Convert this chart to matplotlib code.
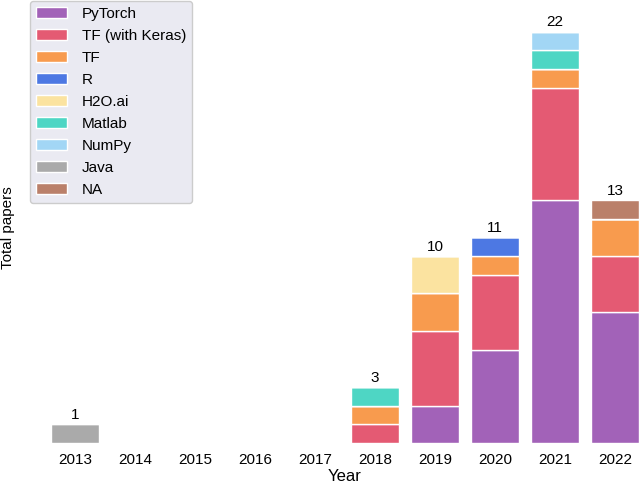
import numpy as np
import matplotlib.pyplot as plt

plt.rcParams['font.family'] = ['Liberation Sans', 'DejaVu Sans']

years = ['2013', '2014', '2015', '2016', '2017', '2018', '2019', '2020', '2021', '2022']
frameworks = ['PyTorch', 'TF (with Keras)', 'TF', 'R', 'H2O.ai', 'Matlab', 'NumPy', 'Java', 'NA']

pytorch = [0, 0, 0, 0, 0, 0, 2, 5, 13, 7]
tf_keras = [0, 0, 0, 0, 0, 1, 4, 4, 6, 3]
tf = [0, 0, 0, 0, 0, 1, 2, 1, 1, 2]
r_lang = [0, 0, 0, 0, 0, 0, 0, 1, 0, 0]
h2o = [0, 0, 0, 0, 0, 0, 2, 0, 0, 0]
matlab = [0, 0, 0, 0, 0, 1, 0, 0, 1, 0]
numpy_ = [0, 0, 0, 0, 0, 0, 0, 0, 1, 0]
java = [1, 0, 0, 0, 0, 0, 0, 0, 0, 0]
na = [0, 0, 0, 0, 0, 0, 0, 0, 0, 1]

colors = ['#a262b8', '#e45a73', '#f89b4e', '#4d78e3', '#fbe3a0',
          '#4ed6c4', '#a2d6f5', '#aaaaaa', '#ba806a']

series = [pytorch, tf_keras, tf, r_lang, h2o, matlab, numpy_, java, na]

fig = plt.figure(figsize=(6.4, 4.84), dpi=100)
ax = fig.add_axes([45 / 640, 41 / 484, 600 / 640, 435 / 484])

x = np.arange(len(years))
bottom = np.zeros(len(years))
for name, vals, c in zip(frameworks, series, colors):
    vals = np.array(vals, dtype=float)
    ax.bar(x, vals, bottom=bottom, width=0.8, color=c, edgecolor='white',
           linewidth=1, label=name)
    bottom += vals

for xi, tot in zip(x, bottom):
    if tot > 0:
        ax.text(xi, tot + 0.12, str(int(tot)), ha='center', va='bottom', fontsize=11)

ax.set_xlim(-0.5, 9.5)
ax.set_ylim(0, 435 / 18.7)
ax.set_xticks(x)
ax.set_xticklabels(years, fontsize=11)
ax.set_yticks([])
ax.tick_params(axis='x', length=0, pad=7)
for s in ax.spines.values():
    s.set_visible(False)

ax.set_xlabel('Year', fontsize=12, labelpad=1.5)
fig.text(8 / 640, 1 - 228 / 484, 'Total papers', rotation=90, ha='center', va='center', fontsize=11)

leg = ax.legend(loc='upper left', bbox_to_anchor=(30 / 640, 1 - 1 / 484), bbox_transform=fig.transFigure,
                fontsize=11, frameon=True, facecolor='#eaeaf2', edgecolor='#cccccc',
                handlelength=2.0, labelspacing=0.52, borderaxespad=0.0, handletextpad=1.0)
leg.get_frame().set_alpha(1)

fig.savefig('out.png', dpi=100)
